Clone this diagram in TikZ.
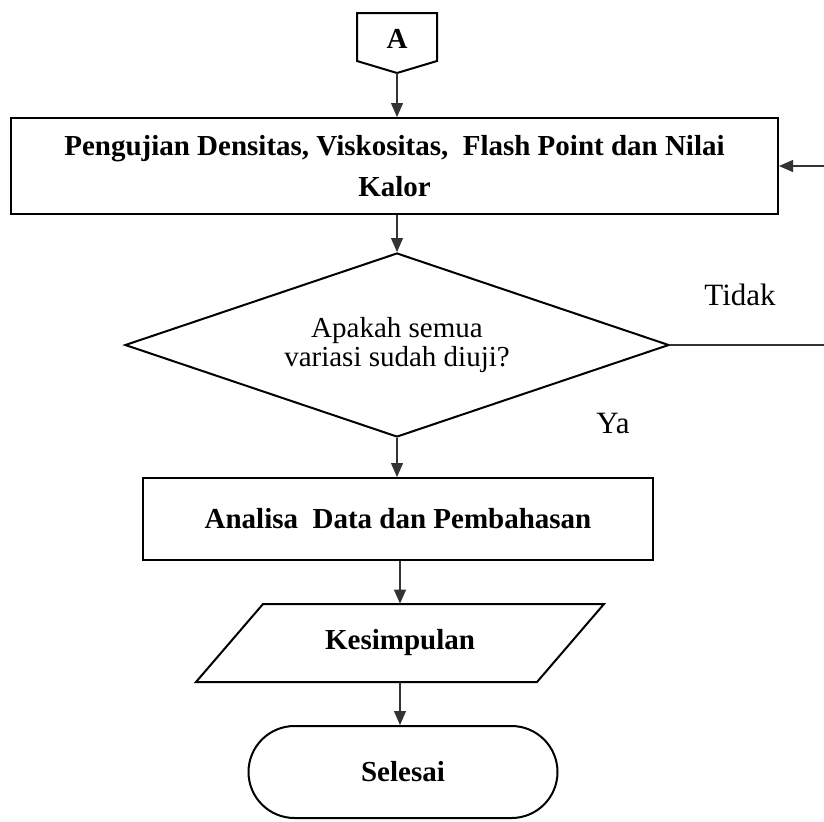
\documentclass[tikz,border=0pt]{standalone}
\usepackage{fontspec}
\setmainfont{Liberation Serif}
\usetikzlibrary{shapes.geometric,shapes.misc,arrows.meta}

\begin{document}
\begin{tikzpicture}[x=0.5pt,y=-0.5pt,
    boxtext/.style={font=\fontsize{14.5}{20.5}\selectfont\bfseries,align=center,inner sep=0pt},
    process/.style={draw,line width=1pt,boxtext},
    flow/.style={-{Triangle[width=6pt,length=7pt]},line width=0.6pt,black!80},
    lbl/.style={font=\fontsize{15.5}{18}\selectfont,inner sep=0pt}]
    \useasboundingbox (0,0) rectangle (824,821);

    % Off-page connector A
    \draw[line width=1pt] (357,13) -- (437,13) -- (437,61) -- (397,73) -- (357,61) -- cycle;
    \node[boxtext] (conA) at (397,39) {A};
    \coordinate (conAbot) at (397,73);

    % Testing box
    \node[process,minimum width=383.5pt,minimum height=48pt] (uji) at (394.5,166)
        {Pengujian Densitas, Viskositas,\ \ Flash Point dan Nilai\\Kalor};

    % Decision
    \node[draw,diamond,line width=1pt,aspect=2.96,minimum width=272pt,minimum height=92pt,
        inner sep=0pt,font=\fontsize{14.5}{14.8}\selectfont,align=center] (cek) at (397,345)
        {Apakah semua\\variasi sudah diuji?};
    \node[lbl] (tidak) at (740,295) {Tidak};
    \node[lbl] (ya) at (613,423) {Ya};

    % Analysis box
    \node[process,minimum width=255pt,minimum height=41pt] (analisa) at (398,519)
        {Analisa\ \ Data dan Pembahasan};

    % Conclusion (parallelogram)
    \node[boxtext,minimum width=170.5pt,minimum height=39pt] (simpul) at (400,643) {Kesimpulan};
    \draw[line width=1pt] (263,604) -- (604,604) -- (537,682) -- (196,682) -- cycle;

    % End
    \node[draw,rounded rectangle,line width=1pt,minimum width=154.5pt,minimum height=46pt,boxtext]
        (selesai) at (403,772) {Selesai};

    % Arrows
    \draw[flow] (conAbot) -- (conAbot |- uji.north);
    \draw[flow] (cek.north |- uji.south) -- (cek.north);
    \draw[flow] (cek.south) -- (cek.south |- analisa.north);
    \draw[flow] (analisa.south -| simpul.north) -- (simpul.north);
    \draw[flow] (simpul.south) -- (simpul.south |- selesai.north);

    % Loop back when not all variations tested
    \coordinate (lp) at (830,347);
    \draw[flow] (cek.east) -- (cek.east -| lp) |- (uji.east);
\end{tikzpicture}
\end{document}
